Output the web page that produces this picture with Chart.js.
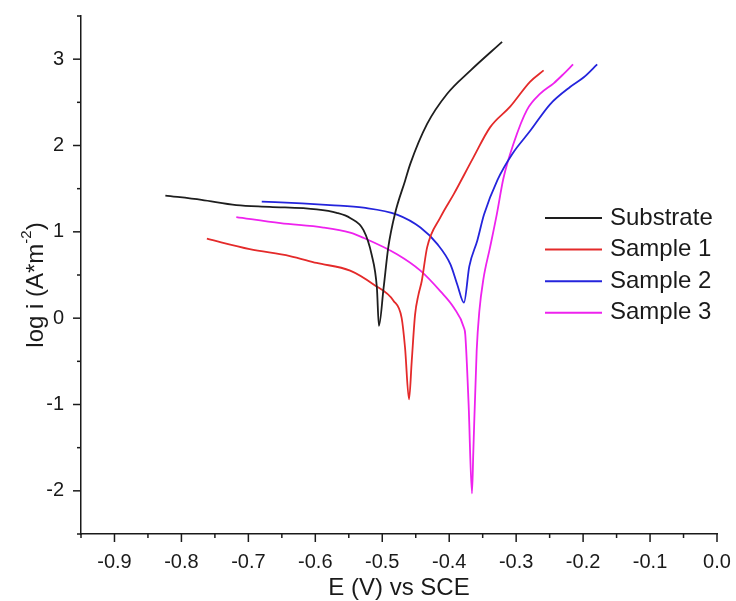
<!DOCTYPE html>
<html>
<head>
<meta charset="utf-8">
<script src="https://cdn.jsdelivr.net/npm/chart.js@4.4.1/dist/chart.umd.min.js"></script>
<style>
  html, body { margin: 0; padding: 0; background: #fff; }
  #wrap { width: 736px; height: 601px; }
</style>
</head>
<body>
<div id="wrap"><canvas id="polChart" width="736" height="601"></canvas></div>
<script>
// polarisation curves
const seriesNames = ['Substrate', 'Sample 1', 'Sample 2', 'Sample 3'];

const substrateE = [-0.824, -0.77, -0.718, -0.668, -0.598, -0.568, -0.548, -0.528, -0.516, -0.508, -0.505, -0.498, -0.491, -0.481, -0.466, -0.458, -0.433, -0.403, -0.368, -0.321];
const substrateI = [1.42, 1.37, 1.31, 1.29, 1.26, 1.22, 1.16, 1.02, 0.74, 0.35, -0.09, 0.35, 0.82, 1.21, 1.59, 1.79, 2.25, 2.60, 2.87, 3.20];

const sample1E = [-0.762, -0.698, -0.638, -0.598, -0.548, -0.513, -0.483, -0.471, -0.466, -0.460, -0.456, -0.451, -0.446, -0.441, -0.433, -0.413, -0.393, -0.364, -0.339, -0.309, -0.279, -0.259];
const sample1I = [0.92, 0.80, 0.72, 0.64, 0.55, 0.39, 0.20, 0.00, -0.34, -0.94, -0.50, 0.04, 0.27, 0.43, 0.82, 1.17, 1.44, 1.86, 2.21, 2.45, 2.74, 2.87];

const sample2E = [-0.680, -0.62, -0.578, -0.528, -0.478, -0.443, -0.418, -0.398, -0.388, -0.378, -0.370, -0.358, -0.348, -0.328, -0.306, -0.279, -0.249, -0.219, -0.199, -0.179];
const sample2I = [1.35, 1.33, 1.31, 1.28, 1.20, 1.05, 0.86, 0.62, 0.39, 0.18, 0.60, 0.90, 1.20, 1.60, 1.90, 2.17, 2.48, 2.68, 2.79, 2.94];

const sample3E = [-0.718, -0.652, -0.588, -0.548, -0.528, -0.478, -0.443, -0.413, -0.393, -0.378, -0.376, -0.371, -0.366, -0.364, -0.359, -0.355, -0.349, -0.339, -0.329, -0.319, -0.304, -0.284, -0.264, -0.244, -0.229, -0.215];
const sample3I = [1.17, 1.10, 1.05, 0.99, 0.93, 0.74, 0.55, 0.31, 0.12, -0.11, -0.19, -1.0, -2.03, -1.55, -0.38, 0.08, 0.45, 0.82, 1.20, 1.62, 2.02, 2.41, 2.60, 2.72, 2.83, 2.94];

const xMin = -0.95, xMax = 0.0;
const yMin = -2.5, yMax = 3.5;

const colors = ['#1e1e1e', '#e42a2a', '#2424dc', '#ee22ee'];
const FONT = '"Liberation Sans", Arial, sans-serif';
const INK = '#1a1a1a';

function toPoints(xs, ys) {
    return xs.map((x, i) => ({ x: x, y: ys[i] }));
}

function noPad(scale) {
    scale.paddingTop = 0;
    scale.paddingBottom = 0;
    scale.paddingLeft = 0;
    scale.paddingRight = 0;
}

const allE = [substrateE, sample1E, sample2E, sample3E];
const allI = [substrateI, sample1I, sample2I, sample3I];

// ticks, axis titles and legend drawn by hand
const decorPlugin = {
    id: 'decor',
    afterDraw(chart) {
        const ctx = chart.ctx;
        const xs = chart.scales.x, ys = chart.scales.y;
        const area = chart.chartArea;
        ctx.save();
        ctx.strokeStyle = INK;
        ctx.lineWidth = 1.5;

        ys.ticks.forEach(t => {
            const py = ys.getPixelForValue(t.value);
            const major = Math.abs(t.value - Math.round(t.value)) < 1e-6;
            const len = major ? 8 : 4;
            ctx.beginPath();
            ctx.moveTo(area.left - len, py);
            ctx.lineTo(area.left, py);
            ctx.stroke();
        });
        xs.ticks.forEach(t => {
            const px = xs.getPixelForValue(t.value);
            const major = Math.abs(t.value * 10 - Math.round(t.value * 10)) < 1e-6;
            const len = major ? 8 : 4;
            ctx.beginPath();
            ctx.moveTo(px, area.bottom);
            ctx.lineTo(px, area.bottom + len);
            ctx.stroke();
        });

        // x title
        ctx.fillStyle = INK;
        ctx.font = '24px ' + FONT;
        ctx.textAlign = 'center';
        ctx.textBaseline = 'middle';
        ctx.fillText('E (V) vs SCE', (area.left + area.right) / 2, 588);

        // y title with superscript
        ctx.save();
        ctx.translate(36, 285);
        ctx.rotate(-Math.PI / 2);
        ctx.textAlign = 'left';
        const a = 'log i (A*m', sup = '-2', b = ')';
        ctx.font = '24px ' + FONT;
        const wa = ctx.measureText(a).width, wb = ctx.measureText(b).width;
        ctx.font = '15px ' + FONT;
        const ws = ctx.measureText(sup).width;
        let sx = -(wa + ws + wb) / 2;
        ctx.font = '24px ' + FONT;
        ctx.fillText(a, sx, 0);
        ctx.font = '15px ' + FONT;
        ctx.fillText(sup, sx + wa, -9);
        ctx.font = '24px ' + FONT;
        ctx.fillText(b, sx + wa + ws, 0);
        ctx.restore();

        // legend
        ctx.textAlign = 'left';
        ctx.textBaseline = 'middle';
        ctx.font = '24px ' + FONT;
        chart.data.datasets.forEach((ds, i) => {
            const ly = 218 + 31.6 * i;
            ctx.strokeStyle = ds.borderColor;
            ctx.lineWidth = 2;
            ctx.beginPath();
            ctx.moveTo(545, ly);
            ctx.lineTo(602, ly);
            ctx.stroke();
            ctx.fillStyle = INK;
            ctx.fillText(ds.label, 610, ly);
        });
        ctx.restore();
    }
};

const ctx = document.getElementById('polChart').getContext('2d');
const polChart = new Chart(ctx, {
    type: 'scatter',
    data: {
        datasets: seriesNames.map((name, i) => ({
            label: name,
            data: toPoints(allE[i], allI[i]),
            showLine: true,
            borderColor: colors[i],
            backgroundColor: colors[i],
            borderWidth: 1.8,
            pointRadius: 0,
            cubicInterpolationMode: 'monotone'
        }))
    },
    options: {
        responsive: false,
        animation: false,
        layout: { padding: { left: 0, right: 19, top: 16, bottom: 0 } },
        plugins: {
            legend: { display: false },
            tooltip: { enabled: false }
        },
        scales: {
            x: {
                type: 'linear',
                min: xMin,
                max: xMax,
                afterFit: (scale) => { scale.height = 67; noPad(scale); },
                border: { display: true, color: INK, width: 1.5 },
                grid: { display: false, drawTicks: false },
                ticks: {
                    stepSize: 0.05,
                    autoSkip: false,
                    maxRotation: 0,
                    padding: 16,
                    color: INK,
                    font: { family: FONT, size: 20 },
                    callback: (v) => {
                        const r = Math.round(v * 10);
                        if (Math.abs(v * 10 - r) > 1e-6) return '';
                        return r === 0 ? '0.0' : (r / 10).toFixed(1);
                    }
                }
            },
            y: {
                type: 'linear',
                min: yMin,
                max: yMax,
                afterFit: (scale) => { scale.width = 81; noPad(scale); },
                border: { display: true, color: INK, width: 1.5 },
                grid: { display: false, drawTicks: false },
                ticks: {
                    stepSize: 0.5,
                    autoSkip: false,
                    padding: 17,
                    color: INK,
                    font: { family: FONT, size: 20 },
                    callback: (v) => {
                        const r = Math.round(v);
                        if (Math.abs(v - r) > 1e-6) return '';
                        return String(r);
                    }
                }
            }
        }
    },
    plugins: [decorPlugin]
});
</script>
</body>
</html>
